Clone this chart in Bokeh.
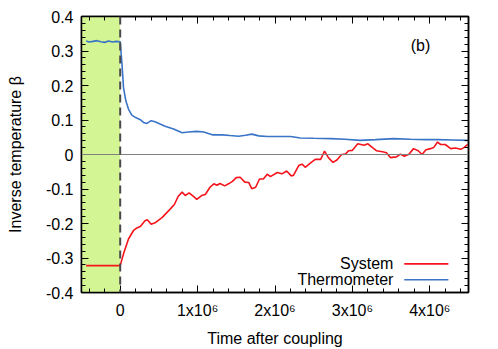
import numpy as np
from bokeh.plotting import figure
from bokeh.models import (Range1d, FixedTicker, BoxAnnotation, Span, Label, LinearAxis,
                          CustomJSTickFormatter)
from bokeh.embed import file_html
from bokeh.resources import INLINE

# ---- data (time in units of 10^6 steps) ----
thermo_t = [-0.44, -0.40, -0.35, -0.30, -0.25, -0.20, -0.15, -0.10, -0.05, 0.0,
            0.022, 0.043, 0.074, 0.108, 0.15, 0.20, 0.26, 0.30, 0.345, 0.40, 0.45,
            0.58, 0.69, 0.80, 0.88, 0.99, 1.08, 1.19, 1.32, 1.42, 1.53, 1.62, 1.70,
            1.79, 1.90, 2.00, 2.20, 2.33, 2.50, 2.72, 2.90, 3.10, 3.30, 3.53, 3.75,
            3.95, 4.10, 4.30, 4.49]
thermo_beta = [0.329, 0.326, 0.328, 0.330, 0.327, 0.325, 0.329, 0.326, 0.328, 0.327,
               0.265, 0.193, 0.155, 0.131, 0.114, 0.107, 0.101, 0.093, 0.090, 0.098, 0.095,
               0.082, 0.074, 0.063, 0.065, 0.067, 0.065, 0.057, 0.057, 0.055, 0.053, 0.056, 0.059,
               0.054, 0.052, 0.052, 0.052, 0.048, 0.047, 0.046, 0.044, 0.041, 0.043, 0.046, 0.044,
               0.043, 0.043, 0.042, 0.041]

system_t = [-0.44, 0.0, 0.043, 0.107, 0.17, 0.215, 0.26, 0.32, 0.35, 0.40, 0.45, 0.54,
            0.63, 0.70, 0.75, 0.80, 0.84, 0.89, 0.95, 0.99, 1.06, 1.10, 1.16, 1.21, 1.25,
            1.29, 1.35, 1.40, 1.45, 1.50, 1.55, 1.61, 1.66, 1.70, 1.75, 1.80, 1.85, 1.90,
            1.94, 2.03, 2.09, 2.15, 2.21, 2.24, 2.31, 2.35, 2.39, 2.46, 2.52, 2.59, 2.64,
            2.69, 2.75, 2.80, 2.86, 2.91, 2.95, 3.00, 3.07, 3.11, 3.15, 3.20, 3.26, 3.31,
            3.39, 3.44, 3.49, 3.57, 3.62, 3.67, 3.73, 3.79, 3.85, 3.90, 3.95, 4.01, 4.05,
            4.10, 4.14, 4.20, 4.27, 4.33, 4.40, 4.44, 4.49]
system_beta = [-0.322, -0.322, -0.288, -0.245, -0.221, -0.213, -0.209, -0.192, -0.189, -0.202,
               -0.198, -0.183, -0.162, -0.145, -0.121, -0.109, -0.119, -0.111, -0.122, -0.130,
               -0.118, -0.116, -0.095, -0.085, -0.089, -0.084, -0.091, -0.085, -0.078, -0.067,
               -0.066, -0.080, -0.081, -0.099, -0.095, -0.071, -0.071, -0.057, -0.064, -0.052,
               -0.056, -0.048, -0.062, -0.060, -0.031, -0.028, -0.037, -0.024, -0.014, -0.014,
               0.010, -0.009, -0.023, -0.016, 0.000, 0.001, 0.011, 0.012, 0.031, 0.029, 0.027,
               0.031, 0.020, 0.011, 0.008, 0.005, -0.009, -0.007, 0.001, -0.005, 0.001, 0.017,
               0.011, 0.000, 0.014, 0.017, 0.020, 0.036, 0.029, 0.029, 0.017, 0.019, 0.015,
               0.020, 0.029]

x_ticks = [0, 1000000, 2000000, 3000000, 4000000]
x_tick_labels = ["0", "1x10\u2076", "2x10\u2076", "3x10\u2076", "4x10\u2076"]
y_ticks = [-0.4, -0.3, -0.2, -0.1, 0, 0.1, 0.2, 0.3, 0.4]
y_tick_labels = ["-0.4", "-0.3", "-0.2", "-0.1", "0", "0.1", "0.2", "0.3", "0.4"]

SCALE = 1e6
FONT = "Liberation Sans"
FS = "16px"

p = figure(width=498, height=349, output_backend="svg", toolbar_location=None,
           x_range=Range1d(-0.5e6, 4.5e6), y_range=Range1d(-0.4, 0.4),
           min_border_left=81, min_border_right=30, min_border_top=16, min_border_bottom=53)
p.xgrid.visible = False
p.ygrid.visible = False
p.outline_line_color = "black"
p.outline_line_width = 1.5

x_minor = [v * 1e5 for v in range(-4, 46, 2)]
y_minor = [round(v * 0.02, 2) for v in range(-20, 21)]

def style_axis(ax):
    ax.axis_line_color = "black"
    ax.axis_line_width = 1.5
    ax.major_tick_in = 7
    ax.major_tick_out = 0
    ax.minor_tick_in = 4
    ax.minor_tick_out = 0
    ax.major_tick_line_color = "black"
    ax.minor_tick_line_color = "black"
    ax.major_label_text_font = FONT
    ax.major_label_text_font_size = FS
    ax.major_label_text_color = "black"
    ax.axis_label_text_font = FONT
    ax.axis_label_text_font_size = FS
    ax.axis_label_text_font_style = "normal"
    ax.axis_label_text_color = "black"

xa = p.xaxis[0]
xa.ticker = FixedTicker(ticks=x_ticks, minor_ticks=x_minor)
xa.major_label_overrides = {t: s for t, s in zip(x_ticks, x_tick_labels)}
xa.axis_label = "Time after coupling"
xa.major_label_standoff = 9
xa.axis_label_standoff = 8
style_axis(xa)

ya = p.yaxis[0]
ya.ticker = FixedTicker(ticks=y_ticks, minor_ticks=y_minor)
ya.major_label_overrides = {t: s for t, s in zip(y_ticks, y_tick_labels)}
ya.axis_label = "Inverse temperature \u03b2"
ya.major_label_standoff = 8
ya.axis_label_standoff = 19
style_axis(ya)

blank = CustomJSTickFormatter(code="return ''")
top = LinearAxis(ticker=FixedTicker(ticks=x_ticks, minor_ticks=x_minor), formatter=blank)
style_axis(top)
top.major_label_standoff = 0
p.add_layout(top, "above")
right = LinearAxis(ticker=FixedTicker(ticks=y_ticks, minor_ticks=y_minor), formatter=blank)
style_axis(right)
right.major_label_standoff = 0
p.add_layout(right, "right")

p.add_layout(BoxAnnotation(left=-0.5e6, right=0, fill_color="#d4f593", fill_alpha=1,
                           line_alpha=0, level="underlay"))
p.add_layout(Span(location=0, dimension="width", line_color="#808080", line_width=1.2))

tt = np.array(thermo_t) * SCALE
st = np.array(system_t) * SCALE
p.line(tt, thermo_beta, line_color="#3a74c6", line_width=1.6)
p.line(st, system_beta, line_color="#f5141c", line_width=1.6)

p.add_layout(Span(location=0, dimension="height", line_color="#4a4a4a", line_width=2,
                  line_dash="8 5"))

# legend (text right-aligned, sample line to the right)
leg_text_x = 3.53e6
leg_line_x = [3.67e6, 4.24e6]
leg_y = [-0.317, -0.363]
for name, col, yy in [("System", "#f5141c", leg_y[0]), ("Thermometer", "#3a74c6", leg_y[1])]:
    p.add_layout(Label(x=leg_text_x, y=yy, text=name, text_align="right",
                       text_baseline="middle", text_font=FONT, text_font_size=FS,
                       text_color="black"))
    p.line(leg_line_x, [yy, yy], line_color=col, line_width=1.6)

p.add_layout(Label(x=3.88e6, y=0.317, text="(b)", text_align="center",
                   text_baseline="middle", text_font=FONT, text_font_size=FS,
                   text_color="black"))

open("out.html", "w").write(file_html(p, INLINE))
